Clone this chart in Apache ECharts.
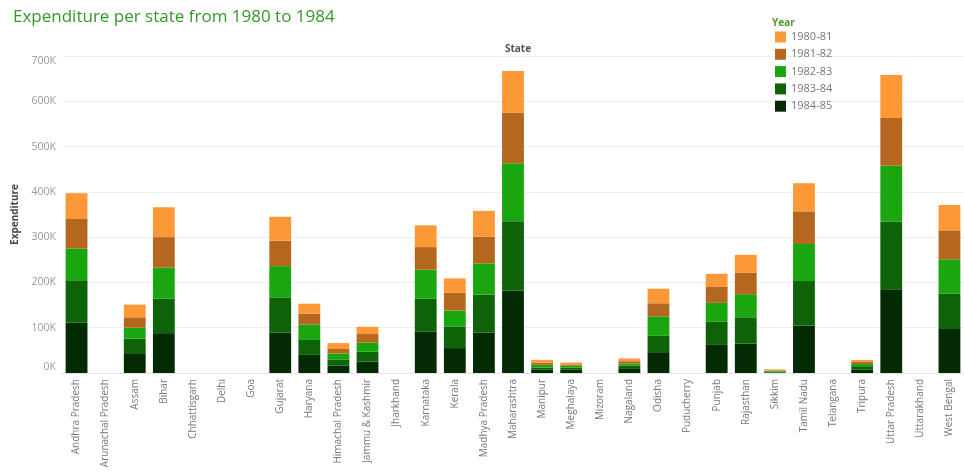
<!DOCTYPE html>
<html>
<head>
<meta charset="utf-8">
<script src="https://cdn.jsdelivr.net/npm/echarts@6/dist/echarts.min.js"></script>
<style>
html,body{margin:0;padding:0;background:#fff;}
#chart{width:964px;height:472px;}
</style>
</head>
<body>
<div id="chart"></div>
<script>
const states = ['Andhra Pradesh','Arunachal Pradesh','Assam','Bihar','Chhattisgarh','Delhi','Goa','Gujarat','Haryana','Himachal Pradesh','Jammu & Kashmir','Jharkhand','Karnataka','Kerala','Madhya Pradesh','Maharashtra','Manipur','Meghalaya','Mizoram','Nagaland','Odisha','Puducherry','Punjab','Rajasthan','Sikkim','Tamil Nadu','Telangana','Tripura','Uttar Pradesh','Uttarakhand','West Bengal'];
const years = ['1980-81','1981-82','1982-83','1983-84','1984-85'];
const y1980 = [57000,null,28000,66000,null,null,null,53000,22000,13000,16000,null,48000,32000,57000,92000,6000,4000,null,6000,32000,null,29000,40000,2000,62000,null,4000,95000,null,56000];
const y1981 = [65000,null,23000,67000,null,null,null,56000,24000,10000,19000,null,50000,39000,59000,112000,5000,3000,null,5000,29000,null,35000,47000,1000,72000,null,5000,105000,null,64000];
const y1982 = [70000,null,24000,69000,null,null,null,69000,34000,13000,20000,null,64000,36000,69000,128000,6000,4000,null,5000,43000,null,42000,51000,2000,82000,null,5000,124000,null,76000];
const y1983 = [94000,null,34000,76000,null,null,null,78000,33000,14000,22000,null,73000,47000,84000,153000,5000,5000,null,7000,36000,null,51000,58000,2000,98000,null,8000,149000,null,78000];
const y1984 = [111000,null,42000,88000,null,null,null,89000,40000,16000,25000,null,91000,55000,89000,182000,7000,7000,null,9000,46000,null,62000,65000,1000,105000,null,7000,185000,null,97000];
const yTicks = [0,100000,200000,300000,400000,500000,600000,700000];

const colors = {'1980-81':'#fd9836','1981-82':'#b5661f','1982-83':'#1aa60e','1983-84':'#0e6308','1984-85':'#042a04'};
const valuesByYear = {'1980-81':y1980,'1981-82':y1981,'1982-83':y1982,'1983-84':y1983,'1984-85':y1984};
const stackOrder = ['1984-85','1983-84','1982-83','1981-82','1980-81'];
const FONT = 'Open Sans';

const chart = echarts.init(document.getElementById('chart'));
chart.setOption({
  animation:false,
  textStyle:{fontFamily:FONT},
  title:[
    {text:'Expenditure per state from 1980 to 1984',left:8,top:4,textStyle:{fontFamily:FONT,fontSize:17,fontWeight:'normal',color:'#35982a'}},
    {text:'State',left:513,top:39,textAlign:'center',textStyle:{fontFamily:FONT,fontSize:10,fontWeight:'bold',color:'#555'}},
    {text:'Year',left:767,top:13,textStyle:{fontFamily:FONT,fontSize:10,fontWeight:'bold',color:'#4a9a2a'}}
  ],
  legend:{
    orient:'vertical',left:770,top:26.5,itemWidth:11,itemHeight:11,itemGap:6.3,
    data:years,icon:'rect',
    textStyle:{fontFamily:FONT,fontSize:11,color:'#777'}
  },
  grid:{left:62,right:-2,top:56,bottom:99,containLabel:false},
  xAxis:{
    type:'category',data:states,
    axisLine:{lineStyle:{color:'#e4e4e4'}},
    axisTick:{show:false},
    axisLabel:{rotate:90,interval:0,fontSize:10,color:'#777',margin:6,fontFamily:FONT}
  },
  yAxis:{
    type:'value',min:0,max:700000,interval:100000,
    name:'Expenditure',nameLocation:'middle',nameRotate:90,nameGap:42,
    nameTextStyle:{fontFamily:FONT,fontSize:10,fontWeight:'bold',color:'#444'},
    axisLine:{show:false},
    axisTick:{show:false},
    axisLabel:{fontSize:10.5,color:'#999',margin:6,fontFamily:FONT,
      verticalAlignMinLabel:'bottom',verticalAlignMaxLabel:'top',
      formatter:function(v){return yTicks.indexOf(v)>=0?(v/1000)+'K':'';}},
    splitLine:{lineStyle:{color:'#efefef'}}
  },
  series:stackOrder.map(function(y){
    return {name:y,type:'bar',stack:'total',barCategoryGap:'25%',data:valuesByYear[y],
      itemStyle:{color:colors[y]}};
  })
});
</script>
</body>
</html>
